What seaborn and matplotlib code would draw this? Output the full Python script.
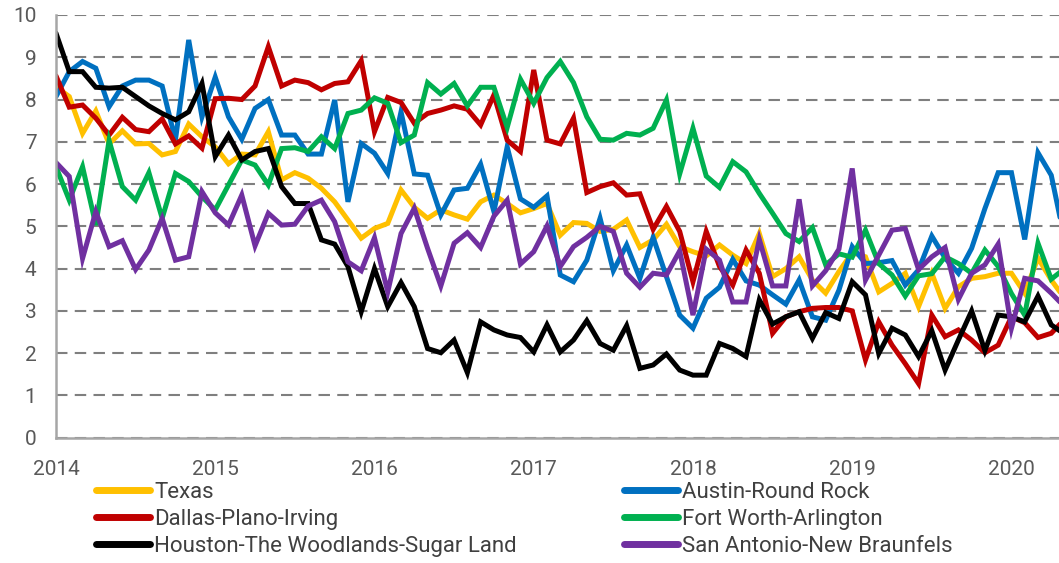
import numpy as np
import pandas as pd
import matplotlib
matplotlib.use("Agg")
import matplotlib.pyplot as plt
import seaborn as sns

# Monthly unemployment rate (%), Jan 2014 onward
texas = [8.3, 8.07, 7.2, 7.73, 6.95, 7.26, 6.95, 6.96, 6.69, 6.77, 7.42, 7.12,
         6.88, 6.48, 6.71, 6.69, 7.24, 6.10, 6.27, 6.14, 5.90, 5.58, 5.15, 4.72,
         4.95, 5.07, 5.86, 5.45, 5.19, 5.39, 5.27, 5.17, 5.58, 5.74, 5.54, 5.32,
         5.42, 5.54, 4.79, 5.09, 5.07, 4.88, 4.93, 5.15, 4.50, 4.68, 5.05, 4.52,
         4.40, 4.30, 4.56, 4.32, 4.12, 4.83, 3.81, 4.00, 4.28, 3.73, 3.42, 3.93,
         4.38, 4.28, 3.45, 3.65, 3.89, 3.10, 3.89, 3.06, 3.57, 3.77, 3.81, 3.89,
         3.89, 3.42, 4.25, 3.73, 3.30]
austin = [8.07, 8.66, 8.90, 8.74, 7.83, 8.32, 8.46, 8.46, 8.32, 7.04, 9.41, 7.59,
          8.53, 7.59, 7.06, 7.79, 8.00, 7.16, 7.16, 6.71, 6.71, 7.99, 5.58, 6.96,
          6.73, 6.25, 7.71, 6.24, 6.21, 5.27, 5.86, 5.90, 6.47, 5.35, 6.88, 5.65,
          5.45, 5.72, 3.85, 3.69, 4.20, 5.19, 3.95, 4.56, 3.77, 4.74, 3.81, 2.90,
          2.59, 3.30, 3.56, 4.22, 3.71, 3.61, 3.38, 3.16, 3.73, 2.86, 2.78, 3.49,
          4.52, 4.12, 4.14, 4.19, 3.61, 3.97, 4.77, 4.25, 3.89, 4.48, 5.42, 6.27,
          6.27, 4.69, 6.74, 6.21, 4.70]
dallas = [8.56, 7.82, 7.87, 7.56, 7.16, 7.58, 7.29, 7.24, 7.54, 6.95, 7.14, 6.85,
          8.02, 8.03, 8.00, 8.32, 9.25, 8.32, 8.46, 8.40, 8.23, 8.38, 8.42, 8.92,
          7.24, 8.05, 7.93, 7.44, 7.67, 7.75, 7.85, 7.77, 7.40, 8.11, 7.04, 6.77,
          8.70, 7.04, 6.95, 7.56, 5.80, 5.94, 6.03, 5.74, 5.77, 4.93, 5.47, 4.88,
          3.69, 4.88, 4.05, 3.61, 4.44, 3.89, 2.47, 2.86, 2.98, 3.06, 3.08, 3.08,
          3.00, 1.84, 2.74, 2.19, 1.75, 1.28, 2.90, 2.39, 2.55, 2.31, 2.01, 2.19,
          2.86, 2.72, 2.37, 2.47, 2.80]
fort_worth = [6.41, 5.62, 6.41, 5.03, 7.03, 5.94, 5.62, 6.27, 5.19, 6.25, 6.06, 5.70,
              5.39, 5.98, 6.57, 6.45, 5.98, 6.84, 6.86, 6.77, 7.12, 6.84, 7.67, 7.75,
              8.04, 7.91, 6.98, 7.16, 8.40, 8.13, 8.38, 7.85, 8.29, 8.29, 7.34, 8.48,
              7.91, 8.52, 8.90, 8.40, 7.59, 7.06, 7.04, 7.20, 7.16, 7.32, 7.99, 6.24,
              7.32, 6.19, 5.92, 6.53, 6.29, 5.78, 5.31, 4.83, 4.64, 4.97, 4.09, 4.35,
              4.27, 4.91, 4.12, 3.85, 3.35, 3.83, 3.88, 4.28, 4.12, 3.89, 4.44, 4.05,
              3.41, 2.90, 4.60, 3.75, 4.00]
houston = [9.57, 8.66, 8.66, 8.29, 8.27, 8.29, 8.07, 7.85, 7.67, 7.52, 7.71, 8.38,
           6.65, 7.16, 6.57, 6.77, 6.84, 5.94, 5.54, 5.54, 4.68, 4.58, 4.05, 2.98,
           4.00, 3.10, 3.67, 3.10, 2.11, 2.01, 2.31, 1.54, 2.74, 2.55, 2.43, 2.37,
           2.03, 2.67, 2.03, 2.31, 2.77, 2.23, 2.07, 2.65, 1.64, 1.72, 1.98, 1.60,
           1.48, 1.48, 2.23, 2.11, 1.92, 3.26, 2.69, 2.86, 2.98, 2.35, 2.96, 2.82,
           3.69, 3.38, 1.99, 2.59, 2.43, 1.92, 2.53, 1.60, 2.31, 3.00, 2.06, 2.90,
           2.86, 2.74, 3.35, 2.67, 2.45]
san_antonio = [6.51, 6.18, 4.24, 5.35, 4.52, 4.66, 3.98, 4.44, 5.19, 4.20, 4.28, 5.82,
               5.32, 5.03, 5.74, 4.54, 5.31, 5.03, 5.05, 5.48, 5.62, 5.11, 4.16, 3.95,
               4.73, 3.45, 4.83, 5.43, 4.48, 3.59, 4.60, 4.85, 4.50, 5.24, 5.62, 4.11,
               4.40, 5.01, 4.05, 4.52, 4.74, 5.00, 4.88, 3.89, 3.56, 3.89, 3.85, 4.42,
               2.90, 4.46, 4.20, 3.21, 3.21, 4.69, 3.59, 3.59, 5.64, 3.59, 3.95, 4.46,
               6.37, 3.73, 4.32, 4.91, 4.95, 3.98, 4.28, 4.50, 3.27, 3.89, 4.09, 4.58,
               2.59, 3.77, 3.71, 3.42, 3.10]

regions = ["Texas", "Austin-Round Rock", "Dallas-Plano-Irving", "Fort Worth-Arlington",
           "Houston-The Woodlands-Sugar Land", "San Antonio-New Braunfels"]
series = [texas, austin, dallas, fort_worth, houston, san_antonio]
colors = ["#FFC000", "#0070C0", "#C00000", "#00B050", "#000000", "#7030A0"]
years = [2014, 2015, 2016, 2017, 2018, 2019, 2020]

frames = []
for name, vals in zip(regions, series):
    frames.append(pd.DataFrame({"month": np.arange(len(vals)), "rate": vals, "region": name}))
df = pd.concat(frames, ignore_index=True)

sns.set_style("white")
plt.rcParams["font.family"] = ["Roboto", "DejaVu Sans"]

W, H = 1059, 563
fig = plt.figure(figsize=(W / 100, H / 100), dpi=100)
ax = fig.add_axes([56 / W, 1 - 437.7 / H, (W - 56) / W, (437.7 - 15) / H])

sns.lineplot(data=df, x="month", y="rate", hue="region", hue_order=regions,
             palette=dict(zip(regions, colors)), linewidth=3.6, ax=ax,
             legend=True, solid_joinstyle="miter")

handles, labels = ax.get_legend_handles_labels()
ax.get_legend().remove()

grid_c = "#7F7F7F"
ax.set_xlim(0, (W - 56) / 13.27)
ax.set_ylim(0, 10)
ax.set_yticks(range(0, 11))
ax.set_xticks([12 * k for k in range(len(years))])
ax.set_xticklabels([str(y) for y in years])
ax.yaxis.grid(True, color=grid_c, linestyle=(0, (5.5, 3.5)), linewidth=1.5)
ax.set_axisbelow(True)
for s in ["top", "right"]:
    ax.spines[s].set_visible(False)
for s in ["left", "bottom"]:
    ax.spines[s].set_color("#A6A6A6")
    ax.spines[s].set_linewidth(1.8)
ax.tick_params(axis="y", direction="out", length=6, width=1.5, color=grid_c,
               labelsize=15, labelcolor="#595959", pad=8)
ax.tick_params(axis="x", direction="out", length=6, width=1.5, color="#A6A6A6",
               labelsize=15, labelcolor="#595959", pad=10)
ax.set_xlabel("")
ax.set_ylabel("")

order = [0, 2, 4, 1, 3, 5]
fs = 16
leg = fig.legend([handles[i] for i in order], [labels[i] for i in order],
                 ncol=2, loc="upper left", bbox_to_anchor=(96 / W, 1 - 482 / H),
                 frameon=False, fontsize=fs, handlelength=2.45, handletextpad=0.18,
                 columnspacing=4.8, labelspacing=0.26, borderaxespad=0,
                 borderpad=0)
for t in leg.get_texts():
    t.set_color("#404040")
for h in leg.get_lines():
    h.set_linewidth(5)
    h.set_solid_capstyle("round")

fig.savefig("out.png", dpi=100)
